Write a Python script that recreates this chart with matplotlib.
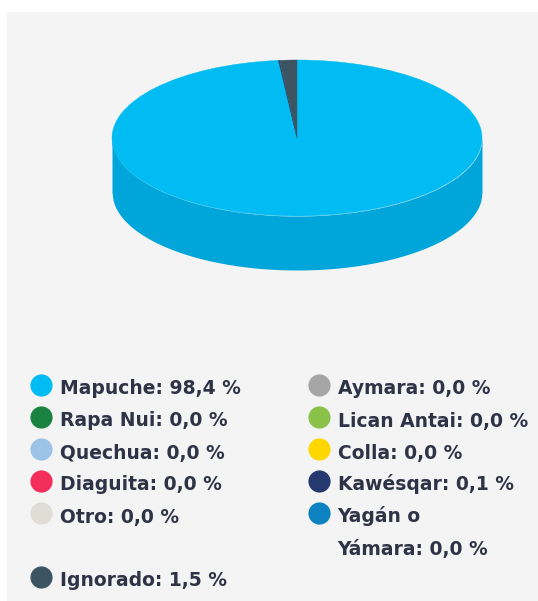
import numpy as np
import matplotlib
matplotlib.use("Agg")
import matplotlib.pyplot as plt
from matplotlib.patches import Rectangle

plt.rcParams["font.family"] = ["DejaVu Sans"]

# orden de la torta (en sentido horario desde arriba)
pueblos = ["Mapuche", "Aymara", "Rapa Nui", "Lican Antai", "Quechua", "Colla",
           "Diaguita", "Kawésqar", "Otro", "Yagán o\nYámara", "Ignorado"]
valores = [98.4, 0.0, 0.0, 0.0, 0.0, 0.0, 0.0, 0.1, 0.0, 0.0, 1.5]
etiquetas = ["98,4 %", "0,0 %", "0,0 %", "0,0 %", "0,0 %", "0,0 %",
             "0,0 %", "0,1 %", "0,0 %", "0,0 %", "1,5 %"]
colores = ["#00bcf2", "#a6a6a6", "#1a8342", "#8ac249", "#9dc3e6", "#ffd700",
           "#f42e5a", "#25396f", "#e0ddd5", "#0c82c0", "#3d5563"]
color_lado = "#00a5d9"
color_texto = "#2f3346"

W, H = 538, 601
fig = plt.figure(figsize=(W / 100, H / 100), dpi=100, facecolor="white")

# fondo gris y leyenda, en pixeles
bg = fig.add_axes((0, 0, 1, 1))
bg.set_xlim(0, W)
bg.set_ylim(H, 0)
bg.axis("off")
bg.add_patch(Rectangle((7, 12), W - 7, H - 12, facecolor="#f4f4f4", edgecolor="none"))

# torta 3d: elipse de 370x156 px mas 54 px de alto
prof = 54 / 78
ax = fig.add_axes((112 / W, 1 - 270 / H, 370 / W, 210 / H))
con_valor = [i for i, v in enumerate(valores) if v > 0]
wedges, _ = ax.pie([valores[i] for i in con_valor], colors=[colores[i] for i in con_valor],
                   startangle=90, counterclock=False,
                   wedgeprops=dict(linewidth=0.3, clip_on=False))
for w in wedges:
    w.set_edgecolor(w.get_facecolor())
ax.set_aspect("auto")
ax.set_xlim(-1, 1)
ax.set_ylim(-1 - prof, 1)
ax.patch.set_alpha(0)
xs = np.linspace(-1, 1, 400)
borde = -np.sqrt(1 - xs ** 2)
ax.fill_between(xs, borde - prof, borde, color=color_lado, linewidth=0, clip_on=False, zorder=0)

# leyenda: dos columnas, la ultima entrada abajo a la izquierda
filas = [0, 0]
for i, (p, e, c) in enumerate(zip(pueblos, etiquetas, colores)):
    col = i % 2
    x0 = [41, 318.5][col]
    y0 = 384.5 + filas[col] * 32
    if p == "Ignorado":
        y0 = 384.5 + 6 * 32
    bg.scatter([x0], [y0], s=255, color=c, linewidth=0, zorder=3)
    partes = (p + ": " + e).split("\n")
    for k, linea in enumerate(partes):
        bg.text(x0 + 19, y0 + 10 + k * 32, linea, fontsize=13.5, fontweight="bold",
                color=color_texto, va="baseline", ha="left")
    filas[col] += 1

fig.savefig("out.png", dpi=100, facecolor=fig.get_facecolor())
